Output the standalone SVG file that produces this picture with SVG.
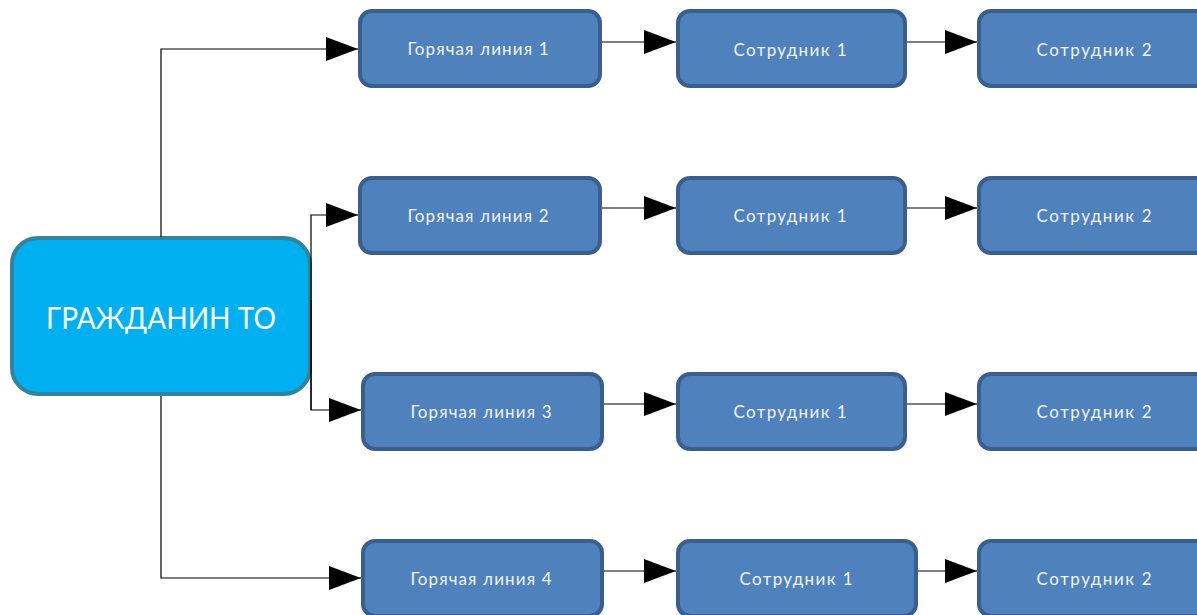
<svg xmlns="http://www.w3.org/2000/svg" width="1197" height="615" viewBox="0 0 1197 615">
<style>
.box{fill:#4f81bd;stroke:#3a5f8f;stroke-width:4}
.lbl{font-family:Lato,"Liberation Sans",sans-serif;font-size:17px;fill:#eef2f8;text-anchor:middle}
.ln{fill:none;stroke:#000;stroke-width:1.2}
</style>
<defs>
<marker id="ah" markerWidth="32" markerHeight="24" refX="32" refY="12" markerUnits="userSpaceOnUse" orient="auto">
<path d="M0,0 L32,12 L0,24 Z" fill="#000"/>
</marker>
</defs>
<rect width="1197" height="615" fill="#fff"/>
<g id="main">
<rect x="12" y="238" width="298" height="156" rx="26" fill="#00b0f0" stroke="#31849b" stroke-width="4"/>
<text x="161" y="329" font-family="Lato,'Liberation Sans',sans-serif" font-size="30" fill="#fff" text-anchor="middle" textLength="230" lengthAdjust="spacingAndGlyphs">ГРАЖДАНИН ТО</text>
</g>
<g id="h1"><rect class="box" x="360" y="11" width="240" height="75" rx="12"/><text class="lbl" x="478" y="55" textLength="141">Горячая линия 1</text></g>
<g id="s11"><rect class="box" x="678" y="11" width="227" height="75" rx="12"/><text class="lbl" x="790" y="56" textLength="113">Сотрудник 1</text></g>
<g id="s21"><rect class="box" x="979" y="11" width="240" height="75" rx="12"/><text class="lbl" x="1094" y="56" textLength="115">Сотрудник 2</text></g>
<g id="h2"><rect class="box" x="360" y="178" width="240" height="75" rx="12"/><text class="lbl" x="478" y="222" textLength="141">Горячая линия 2</text></g>
<g id="s12"><rect class="box" x="678" y="178" width="227" height="75" rx="12"/><text class="lbl" x="790" y="222" textLength="113">Сотрудник 1</text></g>
<g id="s22"><rect class="box" x="979" y="178" width="240" height="75" rx="12"/><text class="lbl" x="1094" y="222" textLength="115">Сотрудник 2</text></g>
<g id="h3"><rect class="box" x="363" y="374" width="239" height="75" rx="12"/><text class="lbl" x="481" y="418" textLength="141">Горячая линия 3</text></g>
<g id="s13"><rect class="box" x="678" y="374" width="227" height="75" rx="12"/><text class="lbl" x="790" y="418" textLength="113">Сотрудник 1</text></g>
<g id="s23"><rect class="box" x="979" y="374" width="240" height="75" rx="12"/><text class="lbl" x="1094" y="418" textLength="115">Сотрудник 2</text></g>
<g id="h4"><rect class="box" x="363" y="541" width="239" height="75" rx="12"/><text class="lbl" x="481" y="585" textLength="141">Горячая линия 4</text></g>
<g id="s14"><rect class="box" x="678" y="541" width="238" height="75" rx="12"/><text class="lbl" x="796" y="585" textLength="113">Сотрудник 1</text></g>
<g id="s24"><rect class="box" x="979" y="541" width="240" height="75" rx="12"/><text class="lbl" x="1094" y="585" textLength="115">Сотрудник 2</text></g>
<g id="connectors">
<path class="ln" d="M161,237 V49 H358" marker-end="url(#ah)"/>
<path class="ln" d="M311,410 V215 H358" marker-end="url(#ah)"/>
<path class="ln" d="M311,300 V410 H361" marker-end="url(#ah)"/>
<path class="ln" d="M161,396 V578 H361" marker-end="url(#ah)"/>
<path class="ln" d="M602,42 H676" marker-end="url(#ah)"/>
<path class="ln" d="M907,42 H977" marker-end="url(#ah)"/>
<path class="ln" d="M602,208 H676" marker-end="url(#ah)"/>
<path class="ln" d="M907,208 H977" marker-end="url(#ah)"/>
<path class="ln" d="M604,404 H676" marker-end="url(#ah)"/>
<path class="ln" d="M907,404 H977" marker-end="url(#ah)"/>
<path class="ln" d="M604,571 H676" marker-end="url(#ah)"/>
<path class="ln" d="M918,571 H977" marker-end="url(#ah)"/>
</g>
</svg>
